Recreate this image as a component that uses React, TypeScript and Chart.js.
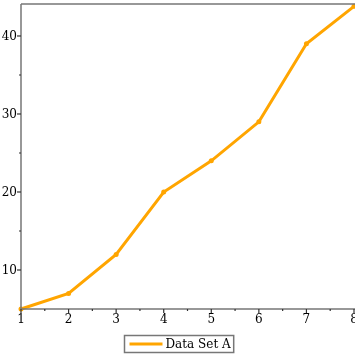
import React, { useEffect, useRef } from "react";
import { Chart, registerables } from "chart.js";

Chart.register(...registerables);

const xValues = [1, 2, 3, 4, 5, 6, 7, 8];
const seriesA = [5, 7, 12, 20, 24, 29, 39, 43.8];
const seriesLabel = "Data Set A";
const xMajorTicks = [1, 2, 3, 4, 5, 6, 7, 8];
const xMinorTicks = [1.5, 2.5, 3.5, 4.5, 5.5, 6.5, 7.5];
const yMajorTicks = [10, 20, 30, 40];
const yMinorTicks = [15, 25, 35];

const FONT = "12px 'DejaVu Serif'";
const AXIS = "#777777";
const ORANGE = "#FFA500";

const axesPlugin = {
  id: "customAxes",
  afterDraw(chart: any) {
    const { ctx, chartArea, scales } = chart;
    const xs = scales.x;
    const ys = scales.y;
    const { left, right, top, bottom } = chartArea;
    ctx.save();
    ctx.strokeStyle = AXIS;
    ctx.lineWidth = 1.5;
    ctx.beginPath();
    ctx.moveTo(left, top);
    ctx.lineTo(right + 2, top);
    ctx.moveTo(left, top);
    ctx.lineTo(left, bottom);
    ctx.lineTo(right + 2, bottom);
    ctx.stroke();

    ctx.fillStyle = "#000";
    ctx.font = FONT;
    // x ticks
    ctx.lineWidth = 1.2;
    ctx.strokeStyle = "#333";
    ctx.textAlign = "center";
    ctx.textBaseline = "top";
    xMajorTicks.forEach((v) => {
      const px = xs.getPixelForValue(v);
      ctx.beginPath();
      ctx.moveTo(px, bottom);
      ctx.lineTo(px, bottom + 4);
      ctx.stroke();
      ctx.fillText(String(v), px, bottom + 5);
    });
    xMinorTicks.forEach((v) => {
      const px = xs.getPixelForValue(v);
      ctx.beginPath();
      ctx.moveTo(px, bottom);
      ctx.lineTo(px, bottom + 2);
      ctx.stroke();
    });
    // y ticks
    ctx.textAlign = "right";
    ctx.textBaseline = "middle";
    yMajorTicks.forEach((v) => {
      const py = ys.getPixelForValue(v);
      ctx.beginPath();
      ctx.moveTo(left, py);
      ctx.lineTo(left - 4, py);
      ctx.stroke();
      ctx.fillText(String(v), left - 4, py + 1);
    });
    yMinorTicks.forEach((v) => {
      const py = ys.getPixelForValue(v);
      ctx.beginPath();
      ctx.moveTo(left, py);
      ctx.lineTo(left - 2, py);
      ctx.stroke();
    });

    // legend
    const label = chart.data.datasets[0].label;
    const textW = ctx.measureText(label).width;
    const sampleW = 33;
    const gap = 3;
    const padL = 5;
    const padR = 3;
    const boxW = padL + sampleW + gap + textW + padR;
    const boxH = 17;
    const cx = chart.width / 2 + 1;
    const bx = Math.round(cx - boxW / 2) + 0.5;
    const by = 335.5;
    ctx.strokeStyle = AXIS;
    ctx.lineWidth = 1.5;
    ctx.strokeRect(bx, by, boxW, boxH);
    ctx.strokeStyle = ORANGE;
    ctx.lineWidth = 3;
    ctx.beginPath();
    ctx.moveTo(bx + padL, by + boxH / 2);
    ctx.lineTo(bx + padL + sampleW, by + boxH / 2);
    ctx.stroke();
    ctx.fillStyle = "#000";
    ctx.textAlign = "left";
    ctx.textBaseline = "middle";
    ctx.fillText(label, bx + padL + sampleW + gap, by + boxH / 2 + 1);
    ctx.restore();
  },
};

export default function App() {
  const ref = useRef<HTMLCanvasElement>(null);
  useEffect(() => {
    document.body.style.margin = "0";
    const canvas = ref.current!;
    const chart = new Chart(canvas, {
      type: "line",
      data: {
        datasets: [
          {
            label: seriesLabel,
            data: xValues.map((x, i) => ({ x, y: seriesA[i] })),
            borderColor: ORANGE,
            backgroundColor: ORANGE,
            borderWidth: 3,
            pointRadius: 2.5,
            pointBackgroundColor: ORANGE,
            pointBorderWidth: 0,
            tension: 0,
            clip: false,
          },
        ],
      },
      options: {
        responsive: false,
        animation: false,
        layout: { autoPadding: false, padding: { left: 21, top: 4, right: 1, bottom: 46 } },
        plugins: { legend: { display: false }, tooltip: { enabled: false } },
        scales: {
          x: { type: "linear", min: 1, max: 8, display: false },
          y: { type: "linear", min: 5, max: 44.1, display: false },
        },
      },
      plugins: [axesPlugin],
    });
    return () => chart.destroy();
  }, []);
  return (
    <div style={{ width: 355, height: 355, position: "relative" }}>
      <canvas ref={ref} width={355} height={355} style={{ display: "block" }} />
    </div>
  );
}
